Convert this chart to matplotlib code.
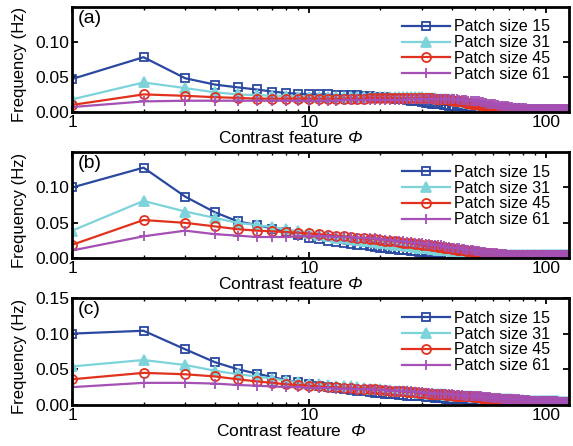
import numpy as np
import matplotlib
matplotlib.use("Agg")
import matplotlib.pyplot as plt
from matplotlib.ticker import LogLocator, NullFormatter, FormatStrFormatter

plt.rcParams["font.family"] = ["Liberation Sans", "DejaVu Sans"]
# only the Phi symbol is set in math mode, and it is italic in the figure
plt.rcParams["mathtext.fontset"] = "custom"
plt.rcParams["mathtext.rm"] = "Liberation Sans:italic"
plt.rcParams["mathtext.it"] = "Liberation Sans:italic"

# contrast feature values 1..125, frequencies in units of 1e-3 Hz
phi = np.arange(1, 126)
labels = ["Patch size 15", "Patch size 31", "Patch size 45", "Patch size 61"]
panel_tags = ["(a)", "(b)", "(c)"]
xlabels = [r"Contrast feature $\Phi$", r"Contrast feature $\Phi$", r"Contrast feature  $\Phi$"]

a_p15 = [47, 78, 48, 39, 35, 32, 29, 27, 26, 25,
         25, 25, 24, 24, 24, 24, 23, 23, 22, 22,
         21, 20, 19, 19, 18, 17, 16, 15, 15, 14,
         13, 13, 12, 12, 11, 11, 10, 10, 9, 9,
         9, 8, 8, 8, 7, 7, 7, 6, 6, 6,
         6, 5, 5, 5, 5, 5, 5, 4, 4, 4,
         4, 4, 4, 4, 4, 4, 4, 3, 3, 3,
         3, 3, 3, 3, 3, 3, 3, 3, 3, 3,
         3, 3, 3, 3, 3, 3, 3, 3, 3, 3,
         3, 3, 3, 3, 3, 3, 3, 3, 3, 3,
         3, 3, 3, 3, 3, 3, 3, 3, 3, 3,
         3, 3, 3, 3, 3, 3, 3, 3, 3, 3,
         3, 3, 3, 3, 3]
a_p31 = [18, 42, 34, 28, 25, 24, 23, 23, 22, 22,
         22, 22, 22, 22, 22, 22, 22, 22, 22, 22,
         22, 22, 22, 21, 21, 21, 21, 21, 21, 21,
         20, 20, 20, 20, 19, 19, 19, 18, 18, 18,
         17, 16, 16, 15, 14, 14, 13, 13, 12, 12,
         11, 11, 10, 10, 9, 9, 8, 8, 7, 7,
         7, 6, 6, 6, 5, 5, 5, 5, 4, 4,
         4, 4, 4, 4, 4, 4, 4, 4, 3, 3,
         3, 3, 3, 3, 3, 3, 3, 3, 3, 3,
         3, 3, 3, 3, 3, 3, 3, 3, 3, 3,
         3, 3, 3, 3, 3, 3, 3, 3, 3, 3,
         3, 3, 3, 3, 3, 3, 3, 3, 3, 3,
         3, 3, 3, 3, 3]
a_p45 = [10, 25, 23, 21, 20, 19, 19, 19, 19, 19,
         19, 19, 19, 19, 19, 19, 19, 20, 20, 20,
         20, 20, 20, 20, 20, 20, 20, 20, 20, 20,
         20, 20, 20, 19, 19, 19, 18, 18, 17, 17,
         16, 16, 15, 15, 14, 13, 13, 12, 12, 11,
         11, 10, 10, 9, 9, 8, 8, 8, 7, 7,
         6, 6, 6, 5, 5, 5, 5, 4, 4, 4,
         4, 4, 4, 3, 3, 3, 3, 3, 3, 3,
         3, 3, 3, 3, 3, 3, 3, 3, 3, 3,
         3, 3, 3, 3, 3, 3, 3, 3, 3, 3,
         3, 3, 3, 3, 3, 3, 3, 3, 3, 3,
         3, 3, 3, 3, 3, 3, 3, 3, 3, 3,
         3, 3, 3, 3, 3]
a_p61 = [7, 15, 16, 16, 16, 16, 16, 16, 16, 16,
         16, 16, 16, 17, 17, 17, 17, 17, 17, 17,
         17, 17, 17, 17, 17, 18, 18, 18, 18, 18,
         18, 18, 18, 18, 18, 18, 18, 18, 18, 18,
         18, 18, 17, 17, 17, 17, 16, 16, 16, 16,
         15, 15, 14, 14, 13, 13, 12, 12, 12, 11,
         11, 10, 10, 9, 9, 9, 8, 8, 8, 7,
         7, 7, 6, 6, 6, 6, 5, 5, 5, 5,
         5, 5, 4, 4, 4, 4, 4, 4, 4, 4,
         4, 4, 4, 4, 4, 4, 4, 4, 4, 4,
         4, 4, 4, 4, 4, 4, 4, 4, 4, 4,
         4, 4, 4, 4, 4, 4, 4, 4, 4, 4,
         4, 4, 4, 4, 4]

b_p15 = [100, 128, 87, 65, 52, 47, 42, 37, 33, 29,
         27, 25, 23, 21, 20, 19, 18, 17, 16, 15,
         14, 13, 13, 12, 11, 11, 10, 10, 9, 9,
         8, 8, 8, 7, 7, 7, 6, 6, 6, 6,
         5, 5, 5, 5, 5, 5, 5, 5, 5, 5,
         5, 5, 4, 4, 4, 4, 4, 4, 4, 4,
         4, 4, 4, 4, 4, 4, 4, 4, 4, 4,
         4, 4, 4, 4, 4, 4, 4, 4, 4, 3,
         3, 3, 3, 3, 3, 3, 3, 3, 3, 3,
         3, 3, 3, 3, 3, 3, 3, 3, 3, 3,
         3, 3, 3, 3, 3, 3, 3, 3, 3, 3,
         3, 3, 3, 3, 3, 3, 3, 3, 3, 3,
         3, 3, 3, 3, 3]
b_p31 = [39, 81, 66, 57, 50, 47, 44, 41, 38, 35,
         33, 31, 29, 28, 27, 26, 25, 24, 23, 22,
         21, 20, 19, 19, 18, 17, 17, 16, 15, 15,
         14, 14, 13, 13, 12, 12, 12, 11, 11, 10,
         10, 10, 9, 9, 9, 8, 8, 8, 8, 7,
         7, 7, 7, 7, 6, 6, 6, 6, 6, 6,
         5, 5, 5, 5, 5, 5, 5, 5, 5, 5,
         5, 5, 5, 5, 5, 4, 4, 4, 4, 4,
         4, 4, 4, 4, 4, 4, 4, 4, 4, 4,
         4, 4, 4, 4, 4, 4, 4, 4, 4, 4,
         4, 4, 4, 4, 4, 4, 4, 4, 4, 4,
         4, 4, 4, 4, 4, 4, 4, 4, 4, 4,
         4, 4, 4, 4, 4]
b_p45 = [19, 54, 50, 45, 41, 39, 38, 37, 36, 35,
         34, 33, 32, 31, 30, 29, 28, 27, 27, 26,
         25, 24, 24, 23, 22, 22, 21, 20, 20, 19,
         18, 18, 17, 17, 16, 16, 15, 14, 14, 13,
         13, 12, 12, 11, 11, 10, 10, 10, 9, 9,
         9, 8, 8, 8, 7, 7, 7, 7, 6, 6,
         6, 6, 6, 5, 5, 5, 5, 5, 5, 5,
         5, 5, 4, 4, 4, 4, 4, 4, 4, 4,
         4, 4, 4, 4, 4, 4, 4, 4, 4, 4,
         4, 4, 4, 4, 4, 4, 4, 4, 4, 4,
         4, 4, 4, 4, 4, 4, 4, 4, 4, 4,
         4, 4, 4, 4, 4, 4, 4, 4, 4, 4,
         4, 4, 4, 4, 4]
b_p61 = [11, 31, 39, 34, 32, 30, 30, 30, 31, 31,
         31, 31, 30, 30, 30, 29, 29, 28, 28, 27,
         26, 26, 25, 24, 24, 23, 23, 22, 22, 21,
         20, 20, 19, 19, 18, 18, 17, 16, 16, 15,
         15, 14, 14, 13, 13, 12, 12, 11, 11, 10,
         10, 10, 9, 9, 9, 8, 8, 8, 7, 7,
         7, 7, 6, 6, 6, 6, 6, 6, 5, 5,
         5, 5, 5, 5, 5, 5, 5, 5, 5, 5,
         4, 4, 4, 4, 4, 4, 4, 4, 4, 4,
         4, 4, 4, 4, 4, 4, 4, 4, 4, 4,
         4, 4, 4, 4, 4, 4, 4, 4, 4, 4,
         4, 4, 4, 4, 4, 4, 4, 4, 4, 4,
         4, 4, 4, 4, 4]

c_p15 = [100, 104, 78, 60, 50, 44, 39, 35, 32, 29,
         27, 25, 24, 22, 21, 20, 19, 18, 17, 17,
         16, 15, 15, 14, 14, 13, 13, 12, 12, 12,
         11, 11, 11, 10, 10, 10, 10, 9, 9, 9,
         9, 8, 8, 8, 8, 8, 7, 7, 7, 7,
         7, 7, 7, 6, 6, 6, 6, 6, 6, 6,
         6, 6, 5, 5, 5, 5, 5, 5, 5, 5,
         5, 5, 5, 5, 5, 4, 4, 4, 4, 4,
         4, 4, 4, 4, 4, 4, 4, 4, 4, 4,
         4, 4, 4, 4, 4, 4, 4, 4, 4, 4,
         3, 3, 3, 3, 3, 3, 3, 3, 3, 3,
         3, 3, 3, 3, 3, 3, 3, 3, 3, 3,
         3, 3, 3, 3, 3]
c_p31 = [54, 63, 56, 48, 43, 40, 37, 34, 32, 30,
         29, 28, 27, 26, 26, 25, 24, 23, 23, 22,
         21, 21, 20, 20, 19, 19, 18, 18, 17, 17,
         17, 16, 16, 16, 15, 15, 15, 14, 14, 14,
         13, 13, 13, 13, 12, 12, 12, 12, 11, 11,
         11, 11, 11, 10, 10, 10, 10, 10, 9, 9,
         9, 9, 9, 9, 9, 8, 8, 8, 8, 8,
         8, 8, 7, 7, 7, 7, 7, 7, 7, 7,
         6, 6, 6, 6, 6, 6, 6, 6, 6, 6,
         6, 6, 6, 6, 5, 5, 5, 5, 5, 5,
         5, 5, 5, 5, 5, 5, 5, 5, 5, 5,
         5, 5, 4, 4, 4, 4, 4, 4, 4, 4,
         4, 4, 4, 4, 4]
c_p45 = [36, 45, 43, 40, 36, 33, 31, 29, 28, 27,
         26, 25, 25, 24, 24, 23, 23, 22, 22, 21,
         21, 20, 20, 19, 19, 18, 18, 18, 17, 17,
         17, 16, 16, 16, 15, 15, 15, 14, 14, 14,
         13, 13, 13, 13, 12, 12, 12, 12, 11, 11,
         11, 11, 10, 10, 10, 10, 10, 9, 9, 9,
         9, 9, 9, 8, 8, 8, 8, 8, 8, 7,
         7, 7, 7, 7, 7, 6, 6, 6, 6, 6,
         6, 6, 6, 5, 5, 5, 5, 5, 5, 5,
         5, 5, 5, 5, 5, 4, 4, 4, 4, 4,
         4, 4, 4, 4, 4, 4, 4, 4, 4, 4,
         4, 4, 4, 4, 4, 4, 4, 4, 4, 4,
         4, 4, 4, 4, 4]
c_p61 = [25, 31, 31, 30, 28, 27, 26, 25, 25, 24,
         24, 24, 23, 23, 23, 22, 22, 22, 21, 21,
         21, 20, 20, 20, 19, 19, 19, 18, 18, 18,
         17, 17, 17, 16, 16, 16, 15, 15, 15, 15,
         14, 14, 14, 14, 13, 13, 13, 13, 12, 12,
         12, 12, 12, 11, 11, 11, 11, 11, 10, 10,
         10, 10, 10, 10, 9, 9, 9, 9, 9, 9,
         8, 8, 8, 8, 8, 8, 8, 7, 7, 7,
         7, 7, 7, 7, 7, 6, 6, 6, 6, 6,
         6, 6, 6, 6, 6, 5, 5, 5, 5, 5,
         5, 5, 5, 5, 5, 5, 5, 5, 5, 5,
         5, 4, 4, 4, 4, 4, 4, 4, 4, 4,
         4, 4, 4, 4, 4]

panels = [
    [a_p15, a_p31, a_p45, a_p61],
    [b_p15, b_p31, b_p45, b_p61],
    [c_p15, c_p31, c_p45, c_p61],
]

COLORS = ["#2A48A0", "#7DD3DA", "#E0321E", "#A450B4"]
STYLES = [
    dict(marker="s", mfc="none", ms=6),
    dict(marker="^", mfc="#7DD3DA", ms=7),
    dict(marker="o", mfc="none", ms=6.5),
    dict(marker="+", mfc="none", ms=7),
]

fig = plt.figure(figsize=(5.73, 4.46), dpi=100)
rects = [
    [0.126, 0.749, 0.867, 0.236],
    [0.126, 0.421, 0.867, 0.238],
    [0.126, 0.092, 0.867, 0.240],
]

for i, (rect, series) in enumerate(zip(rects, panels)):
    ax = fig.add_axes(rect)
    for vals, color, style, lab in zip(series, COLORS, STYLES, labels):
        ax.plot(phi, np.array(vals) / 1000.0, color=color, lw=1.6, mec=color, mew=1.3,
                label=lab, **style)
    ax.set_xscale("log")
    ax.set_xlim(1, 125)
    ax.set_ylim(0, 0.15)
    if i == 2:
        ax.set_yticks([0, 0.05, 0.10, 0.15])
    else:
        ax.set_yticks([0, 0.05, 0.10])
    ax.yaxis.set_major_formatter(FormatStrFormatter("%.2f"))
    ax.set_xticks([1, 10, 100])
    ax.set_xticklabels(["1", "10", "100"])
    ax.xaxis.set_minor_locator(LogLocator(base=10, subs=np.arange(2, 10)))
    ax.xaxis.set_minor_formatter(NullFormatter())
    ax.tick_params(which="both", direction="in", top=True, right=True, labelsize=12.5, pad=2)
    ax.tick_params(which="major", length=4, width=1.3)
    ax.tick_params(which="minor", length=2.5, width=1.0)
    for sp in ax.spines.values():
        sp.set_linewidth(2.0)
    ax.set_ylabel("Frequency (Hz)", fontsize=12)
    ax.yaxis.set_label_coords(-0.09, 0.45)
    ax.set_xlabel(xlabels[i], fontsize=12.5, labelpad=0)
    ax.xaxis.set_label_coords(0.44, -0.17)
    ax.text(0.012, 0.97, panel_tags[i], transform=ax.transAxes, fontsize=14, va="top", ha="left")
    ax.legend(loc="upper left", bbox_to_anchor=(0.652, 0.94), frameon=False, fontsize=11.5,
              handlelength=3.0, handletextpad=0.2, labelspacing=0.05, borderaxespad=0.2,
              borderpad=0.2)

fig.savefig("out.png", dpi=100)
